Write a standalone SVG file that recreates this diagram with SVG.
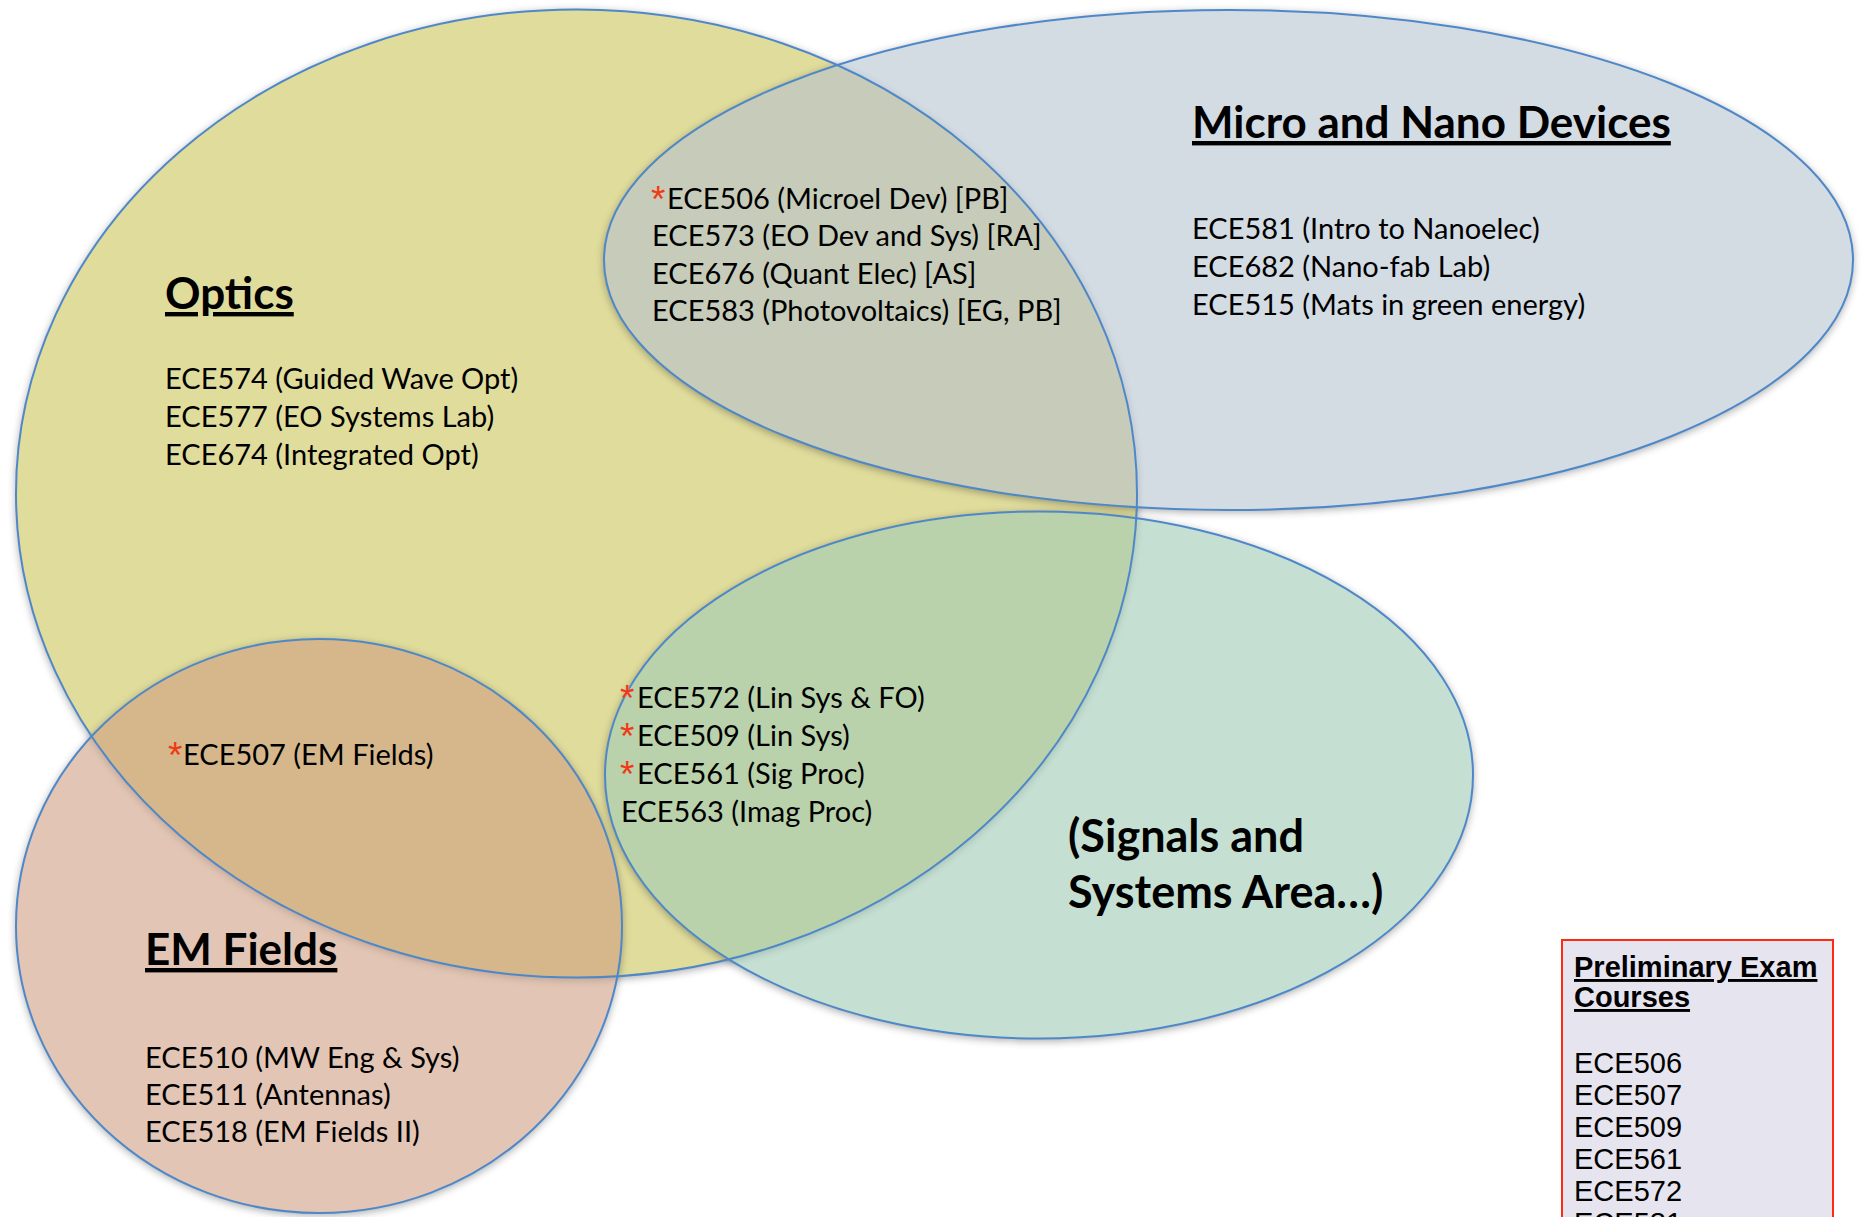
<svg xmlns="http://www.w3.org/2000/svg" xmlns:xlink="http://www.w3.org/1999/xlink" width="1865" height="1217" viewBox="0 0 1865 1217">
<defs>
<style>
.lbl{font-family:Lato,"Liberation Sans",sans-serif;font-size:29px;fill:#000;}
.ttl{font-family:Lato,"Liberation Sans",sans-serif;font-size:44px;font-weight:bold;fill:#000;text-decoration:underline;}
.big{font-family:Lato,"Liberation Sans",sans-serif;font-size:45px;font-weight:bold;fill:#000;}
.star{font-family:"Liberation Sans",sans-serif;font-size:37px;fill:#f03a17;}
.edge{fill:none;stroke:#4f88c8;stroke-width:2;}
.box{font-family:"Liberation Sans",Arial,sans-serif;font-size:29px;fill:#000;}
</style>
<filter id="sh" x="-10%" y="-10%" width="120%" height="120%">
<feComponentTransfer in="SourceAlpha" result="solid"><feFuncA type="linear" slope="10"/></feComponentTransfer>
<feGaussianBlur in="solid" stdDeviation="4"/>
<feOffset dx="0" dy="2"/>
<feComponentTransfer><feFuncA type="linear" slope="0.35"/></feComponentTransfer>
<feComposite in2="solid" operator="out" result="shadow"/>
<feMerge><feMergeNode in="shadow"/><feMergeNode in="SourceGraphic"/></feMerge>
</filter>
<ellipse id="e-opt" cx="576.5" cy="493.5" rx="560.5" ry="484"/>
<ellipse id="e-mic" cx="1228.5" cy="260" rx="624.5" ry="250"/>
<ellipse id="e-sig" cx="1039" cy="775" rx="434" ry="263.5"/>
<ellipse id="e-em" cx="319" cy="926" rx="303" ry="287"/>
</defs>
<rect width="1865" height="1217" fill="#ffffff"/>
<g id="optics">
<use xlink:href="#e-opt" fill="#e0dc9c" filter="url(#sh)"/>
</g>
<g id="micro-nano">
<use xlink:href="#e-mic" fill="#b3c1cf" fill-opacity="0.58" filter="url(#sh)"/>
</g>
<g id="signals">
<use xlink:href="#e-sig" fill="#9ecbb6" fill-opacity="0.6" filter="url(#sh)"/>
</g>
<g id="em-fields">
<use xlink:href="#e-em" fill="#cd9b7e" fill-opacity="0.58" filter="url(#sh)"/>
</g>
<g id="outlines">
<use xlink:href="#e-opt" class="edge"/>
<use xlink:href="#e-mic" class="edge"/>
<use xlink:href="#e-sig" class="edge"/>
<use xlink:href="#e-em" class="edge"/>
</g>
<g id="connectors"/>
<g id="optics-text">
<text class="ttl" x="165" y="309">Optics</text>
<text class="lbl" x="165" y="389">ECE574 (Guided Wave Opt)</text>
<text class="lbl" x="165" y="427">ECE577 (EO Systems Lab)</text>
<text class="lbl" x="165" y="465">ECE674 (Integrated Opt)</text>
</g>
<g id="micro-text">
<text class="ttl" x="1192" y="138">Micro and Nano Devices</text>
<text class="lbl" x="1192" y="239">ECE581 (Intro to Nanoelec)</text>
<text class="lbl" x="1192" y="277">ECE682 (Nano-fab Lab)</text>
<text class="lbl" x="1192" y="315">ECE515 (Mats in green energy)</text>
</g>
<g id="optics-micro-text">
<text class="star" x="651" y="212">*</text>
<text class="lbl" x="667" y="209">ECE506 (Microel Dev) [PB]</text>
<text class="lbl" x="652" y="246">ECE573 (EO Dev and Sys) [RA]</text>
<text class="lbl" x="652" y="284">ECE676 (Quant Elec) [AS]</text>
<text class="lbl" x="652" y="321">ECE583 (Photovoltaics) [EG, PB]</text>
</g>
<g id="optics-signals-text">
<text class="star" x="620" y="711">*</text>
<text class="lbl" x="637" y="708">ECE572 (Lin Sys &amp; FO)</text>
<text class="star" x="620" y="749">*</text>
<text class="lbl" x="637" y="746">ECE509 (Lin Sys)</text>
<text class="star" x="620" y="787">*</text>
<text class="lbl" x="637" y="784">ECE561 (Sig Proc)</text>
<text class="lbl" x="621" y="822">ECE563 (Imag Proc)</text>
</g>
<g id="signals-text">
<text class="big" x="1068" y="852">(Signals and</text>
<text class="big" x="1068" y="908">Systems Area…)</text>
</g>
<g id="optics-em-text">
<text class="star" x="168" y="768">*</text>
<text class="lbl" x="183" y="765">ECE507 (EM Fields)</text>
</g>
<g id="em-text">
<text class="ttl" x="145" y="965">EM Fields</text>
<text class="lbl" x="145" y="1068">ECE510 (MW Eng &amp; Sys)</text>
<text class="lbl" x="145" y="1105">ECE511 (Antennas)</text>
<text class="lbl" x="145" y="1142">ECE518 (EM Fields II)</text>
</g>
<g id="prelim-box">
<rect x="1562" y="940" width="271" height="300" fill="#e6e4ee" stroke="#ff2a12" stroke-width="2"/>
<text class="box" x="1574" y="977" font-weight="bold" text-decoration="underline">Preliminary Exam</text>
<text class="box" x="1574" y="1007" font-weight="bold" text-decoration="underline">Courses</text>
<text class="box" x="1574" y="1073">ECE506</text>
<text class="box" x="1574" y="1105">ECE507</text>
<text class="box" x="1574" y="1137">ECE509</text>
<text class="box" x="1574" y="1169">ECE561</text>
<text class="box" x="1574" y="1201">ECE572</text>
<text class="box" x="1574" y="1233">ECE581</text>
</g>
</svg>
